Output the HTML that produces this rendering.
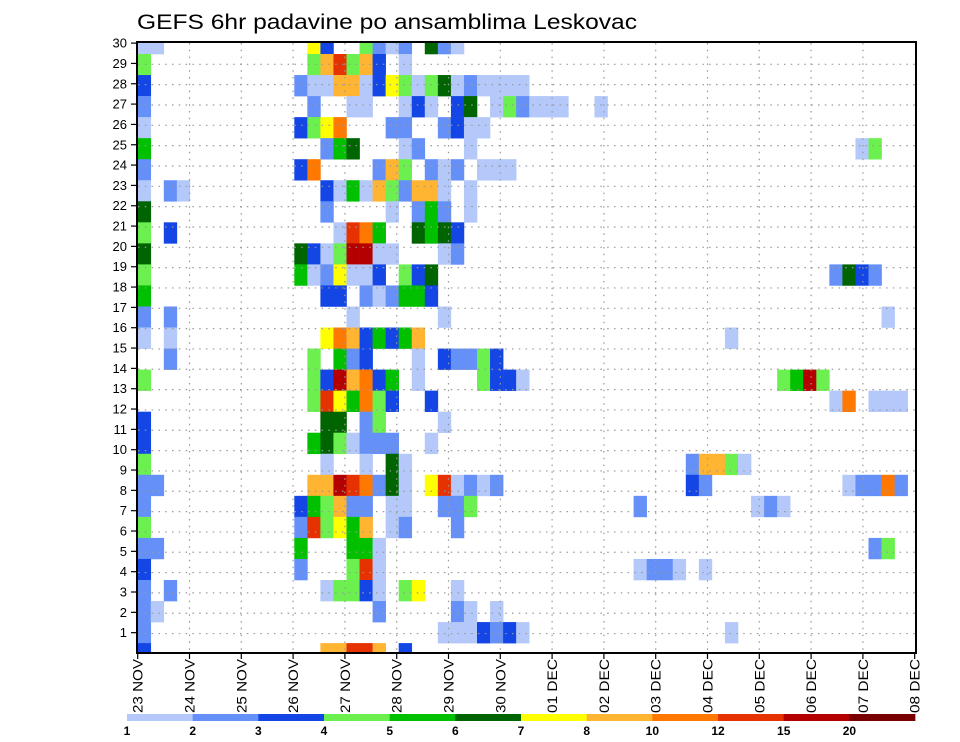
<!DOCTYPE html>
<html><head><meta charset="utf-8"><style>
html,body{margin:0;padding:0;background:#fff;}
svg{display:block;font-family:"Liberation Sans",sans-serif;}
</style></head><body>
<svg id="s" width="960" height="742" xmlns="http://www.w3.org/2000/svg">
<rect width="960" height="742" fill="#fff"/>
<g id="cells"></g>
<g id="grid" stroke="#999" stroke-width="1.2" stroke-dasharray="1.5 5.3"></g>
<rect x="137" y="42" width="779" height="611" fill="none" stroke="#000" stroke-width="2"/>
<g id="yl" font-size="13" text-anchor="end" fill="#000"></g>
<g id="xl" font-size="14" fill="#000"></g>
<text x="137" y="29" font-size="21" textLength="500" lengthAdjust="spacingAndGlyphs">GEFS 6hr padavine po ansamblima Leskovac</text>
<g id="cb"></g>
<g id="cbl" font-size="12" font-weight="bold" text-anchor="middle"></g>
</svg>
<script>
var C={a:"#b4c8fa",b:"#6490f8",c:"#1446e6",d:"#6cf050",e:"#00c000",f:"#006400",g:"#ffff00",h:"#ffb432",i:"#ff7800",j:"#e63200",k:"#b40000",l:"#780000"};
var R=[
"0a 1a 13g 14c 17d 18b 19a 20b 22f 23b 24a",
"0d 13d 14h 15j 16d 17h 18c 20a",
"0c 12b 13a 14a 15h 16h 17a 18c 19g 20d 21a 22d 23f 24a 25b 26a 27a 28a 29a",
"0b 13b 16a 17a 20a 21c 22a 24c 25f 27a 28d 29b 30a 31a 32a 35a",
"0a 12c 13d 14g 15i 19b 20b 23b 24c 25a 26a",
"0e 14b 15e 16f 20a 21b 25a 55a 56d",
"0b 12c 13i 18b 19h 20d 22b 23a 24b 26a 27a 28a",
"0a 2b 3a 14c 15a 16e 17a 18h 19d 20b 21h 22h 23a 25a",
"0f 14b 19a 21b 22e 23b 25a",
"0d 2c 15a 16j 17i 18e 21f 22e 23f 24c",
"0f 12f 13c 14a 15d 16k 17k 18a 19a 23a 24b",
"0d 12e 13a 14b 15g 16a 17a 18c 20d 21c 22f 53b 54f 55c 56b",
"0e 14c 15c 17b 18a 19b 20e 21e 22c",
"0b 2b 16a 23a 57a",
"0a 2a 14g 15i 16h 17c 18e 19c 20e 21h 45a",
"2b 13d 15e 16b 17c 21a 23c 24b 25b 26d 27c",
"0d 13d 14c 15k 16h 17i 18c 19e 21a 26d 27c 28c 29a 49d 50e 51k 52d",
"13d 14j 15g 16e 17i 18d 19c 22c 53a 54i 56a 57a 58a",
"0c 14f 15f 17b 18d 23a",
"0c 13e 14f 15d 16a 17b 18b 19b 22a",
"0d 14a 17a 19f 20a 42b 43h 44h 45d 46a",
"0b 1b 13h 14h 15k 16j 17i 18b 19f 20a 22g 23j 24a 25b 26a 27b 42c 43b 54a 55b 56b 57i 58b",
"0b 12c 13e 14d 15h 16b 17b 19a 20a 23b 24b 25d 38b 47a 48b 49a",
"0d 12b 13j 14d 15g 16e 17h 19a 20b 24b",
"0b 1b 12e 16e 17e 18a 56b 57d",
"0c 12b 16d 17j 18a 38a 39b 40b 41a 43a",
"0b 2b 14a 15d 16d 17c 18a 20d 21g 24a",
"0b 1a 18b 24b 25a 27a",
"0b 23a 24a 25a 26c 27b 28c 29a 45a",
"0c 14h 15h 16j 17j 18h 20c"
];
var NS="http://www.w3.org/2000/svg";
function el(t,a,p,txt){var e=document.createElementNS(NS,t);for(var k in a)e.setAttribute(k,a[k]);if(txt!=null)e.textContent=txt;p.appendChild(e);return e;}
var cells=document.getElementById("cells");
for(var k=0;k<R.length;k++){
  var y0,y1;
  if(k==0){y0=43;y1=54;}else if(k==29){y0=643.1;y1=653;}else{y0=54+21.04*(k-1);y1=54+21.04*k;}
  R[k].split(" ").forEach(function(s){
    var c=parseInt(s),code=s.replace(/[0-9]/g,"");
    var x0=137.7+13.05*c,x1=Math.min(x0+13.05,915);
    el("rect",{x:x0,y:y0,width:x1-x0+0.3,height:y1-y0+0.3,fill:C[code]},cells);
  });
}
var grid=document.getElementById("grid");
for(var n=1;n<30;n++){var y=44+20.33*n;el("line",{x1:138,y1:y,x2:915,y2:y},grid);}
for(var d=1;d<15;d++){var x=137.7+51.8*d;el("line",{x1:x,y1:43,x2:x,y2:652},grid);}
var yl=document.getElementById("yl");
var ax=el("g",{stroke:"#000","stroke-width":"1.2"},document.getElementById("s"));
for(var n=1;n<=30;n++){var y=653-20.33*n;el("text",{x:127,y:y+4.5},yl,""+n);el("line",{x1:131,y1:y,x2:137,y2:y},ax);}
var days=["23 NOV","24 NOV","25 NOV","26 NOV","27 NOV","28 NOV","29 NOV","30 NOV","01 DEC","02 DEC","03 DEC","04 DEC","05 DEC","06 DEC","07 DEC","08 DEC"];
var xl=document.getElementById("xl");
for(var d=0;d<16;d++){var x=137.7+51.8*d;
  el("line",{x1:x,y1:653,x2:x,y2:659},ax);
  el("text",{x:x+5,y:659,transform:"rotate(-90 "+(x+5)+" 659)","text-anchor":"end",textLength:54,lengthAdjust:"spacingAndGlyphs"},xl,days[d]);}
var cb=document.getElementById("cb"),cbl=document.getElementById("cbl");
var keys="abcdefghijkl",labs=["1","2","3","4","5","6","7","8","10","12","15","20"];
for(var i=0;i<12;i++){var x=127+65.67*i;el("rect",{x:x,y:714,width:66,height:7,fill:C[keys[i]]},cb);el("text",{x:x,y:735},cbl,labs[i]);}
</script>
</body></html>
